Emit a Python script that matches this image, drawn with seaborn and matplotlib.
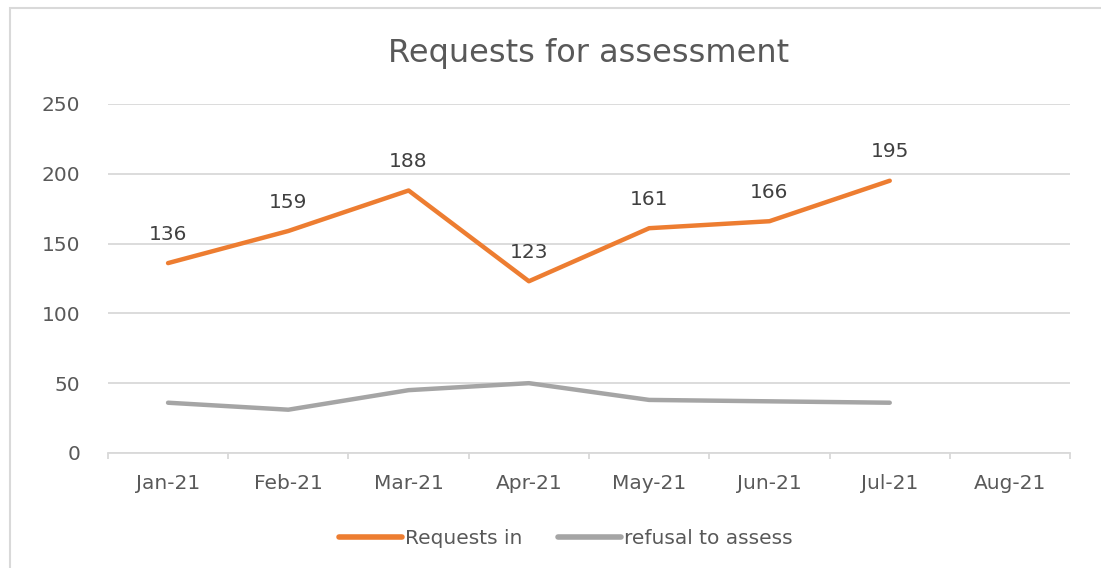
import pandas as pd
import matplotlib.pyplot as plt
import seaborn as sns
from matplotlib.patches import Rectangle

# data
months = ['Jan-21', 'Feb-21', 'Mar-21', 'Apr-21', 'May-21', 'Jun-21', 'Jul-21', 'Aug-21']
requests_in = [136, 159, 188, 123, 161, 166, 195]
refusals = [36, 31, 45, 50, 38, 37, 36]

df = pd.DataFrame({
    'pos': list(range(len(requests_in))) * 2,
    'value': requests_in + refusals,
    'series': ['Requests in'] * len(requests_in) + ['refusal to assess'] * len(refusals),
})

sns.set_style('white')
plt.rcParams['font.family'] = ['DejaVu Sans']
txt = '#595959'
grid = '#D9D9D9'
fs = 14.5

fig = plt.figure(figsize=(11.01, 5.68), dpi=100)
ax = fig.add_axes([0.098, 0.2025, 0.874, 0.6145])

sns.lineplot(data=df, x='pos', y='value', hue='series',
             palette=['#ED7D31', '#A5A5A5'], linewidth=3.2, ax=ax,
             solid_capstyle='round', solid_joinstyle='round')

# data labels on the orange series
for i, v in enumerate(requests_in):
    ax.annotate(str(v), (i, v), xytext=(0, 14), textcoords='offset points',
                ha='center', va='bottom', fontsize=fs, color='#404040')

ax.set_xlim(-0.5, len(months) - 0.5)
ax.set_ylim(0, 250)
ax.set_yticks(range(0, 251, 50))
ax.set_xticks(range(len(months)))
ax.set_xticklabels(months)
ax.set_xticks([i - 0.5 for i in range(len(months) + 1)], minor=True)
ax.tick_params(axis='x', which='major', bottom=True, length=0, pad=15,
               labelsize=fs, labelcolor=txt)
ax.tick_params(axis='x', which='minor', bottom=True, length=4.5, color=grid, width=1.3)
ax.tick_params(axis='y', length=0, pad=20, labelsize=fs, labelcolor=txt)
ax.set_xlabel('')
ax.set_ylabel('')
ax.yaxis.grid(True, color=grid, linewidth=1.3)
for s in ['left', 'right', 'top']:
    ax.spines[s].set_visible(False)
ax.spines['bottom'].set_color(grid)
ax.spines['bottom'].set_linewidth(1.3)

ax.set_title('Requests for assessment', fontsize=23, color=txt, pad=30)

leg = ax.legend(loc='upper center', bbox_to_anchor=(0.476, -0.165), ncol=2,
                frameon=False, fontsize=fs, handlelength=3.1,
                handletextpad=0.15, columnspacing=1.8)
for t in leg.get_texts():
    t.set_color(txt)
for h in leg.get_lines():
    h.set_linewidth(4)

fig.patches.append(Rectangle((0.009, -0.02), 1.1, 1.006, transform=fig.transFigure,
                             fill=False, edgecolor=grid, linewidth=1.5))

fig.savefig('out.png', dpi=100)
